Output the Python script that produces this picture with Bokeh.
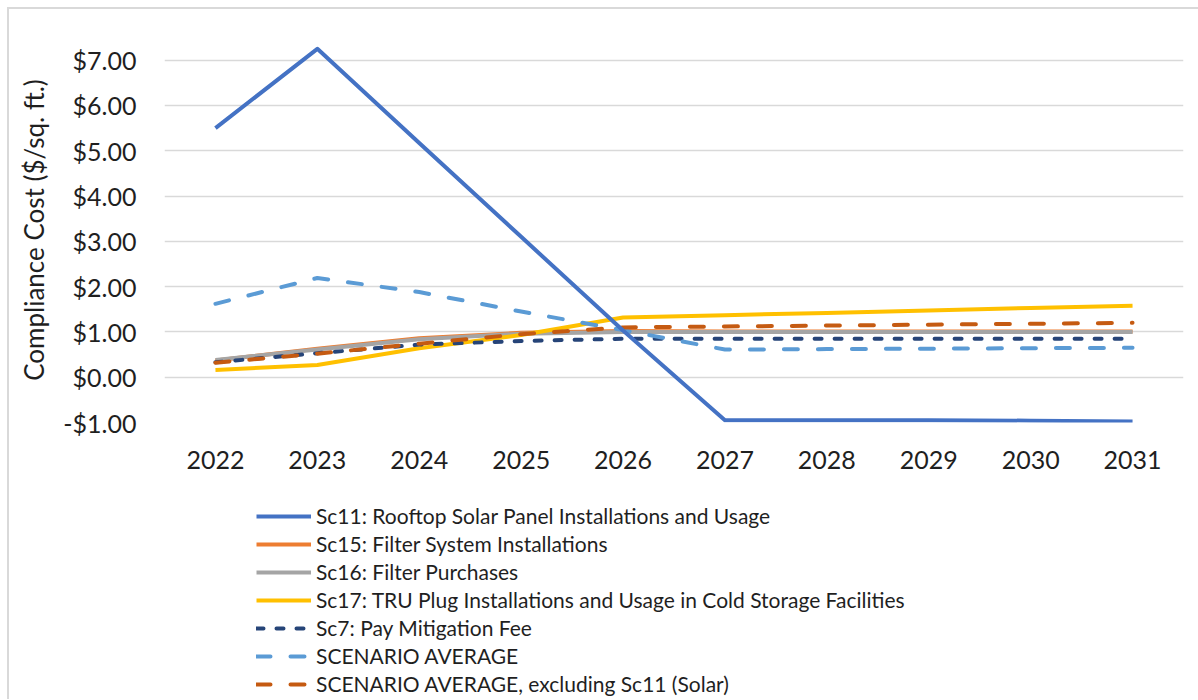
from bokeh.plotting import figure
from bokeh.layouts import column
from bokeh.models import FixedTicker, CustomJSTickFormatter, Legend, LegendItem, Range1d
from bokeh.embed import file_html
from bokeh.resources import INLINE

years = [2022, 2023, 2024, 2025, 2026, 2027, 2028, 2029, 2030, 2031]
sc11 = [5.50, 7.25, 5.17, 3.10, 1.03, -0.95, -0.95, -0.95, -0.96, -0.98]
sc15 = [0.37, 0.63, 0.86, 0.98, 1.02, 1.01, 1.01, 1.01, 1.01, 1.01]
sc16 = [0.38, 0.61, 0.84, 0.96, 1.00, 1.00, 1.00, 1.00, 1.00, 1.00]
sc17 = [0.16, 0.27, 0.64, 0.93, 1.32, 1.37, 1.42, 1.47, 1.53, 1.58]
sc7 = [0.33, 0.53, 0.72, 0.80, 0.85, 0.85, 0.85, 0.85, 0.85, 0.85]
avg_all = [1.62, 2.19, 1.88, 1.45, 1.04, 0.61, 0.62, 0.63, 0.64, 0.65]
avg_excl = [0.32, 0.52, 0.74, 0.95, 1.10, 1.12, 1.14, 1.16, 1.18, 1.20]
y_ticks = [-1, 0, 1, 2, 3, 4, 5, 6, 7]

labels = [
    "Sc11: Rooftop Solar Panel Installations and Usage",
    "Sc15: Filter System Installations",
    "Sc16: Filter Purchases",
    "Sc17: TRU Plug Installations and Usage in Cold Storage Facilities",
    "Sc7: Pay Mitigation Fee",
    "SCENARIO AVERAGE",
    "SCENARIO AVERAGE, excluding Sc11 (Solar)",
]
series = [sc11, sc15, sc16, sc17, sc7, avg_all, avg_excl]
styles = [
    dict(line_color="#4472C4"),
    dict(line_color="#ED7D31"),
    dict(line_color="#A5A5A5"),
    dict(line_color="#FFC000"),
    dict(line_color="#264478", line_dash="7 13", line_cap="round"),
    dict(line_color="#5B9BD5", line_dash="14 20", line_cap="round"),
    dict(line_color="#C55A11", line_dash="14 20", line_cap="round"),
]
draw_order = [1, 2, 3, 4, 5, 6, 0]

FONT = "Lato"
TXT = "#1f1f1f"
W = 4

p = figure(width=1189, height=488, output_backend="svg", toolbar_location=None,
           x_range=Range1d(2021.5, 2031.5), y_range=Range1d(-1, 7.5),
           min_border_left=155, min_border_right=15, min_border_top=28,
           min_border_bottom=75)
p.outline_line_color = None
p.xgrid.grid_line_color = None
p.ygrid.grid_line_color = "#d9d9d9"
p.ygrid.grid_line_width = 1.5

p.xaxis.ticker = FixedTicker(ticks=years)
p.yaxis.ticker = FixedTicker(ticks=y_ticks)
p.yaxis.formatter = CustomJSTickFormatter(
    code="return (tick < 0 ? '-' : '') + '$' + Math.abs(tick).toFixed(2);")
for ax in (p.xaxis[0], p.yaxis[0]):
    ax.axis_line_color = None
    ax.major_tick_line_color = None
    ax.minor_tick_line_color = None
    ax.major_label_text_font = FONT
    ax.major_label_text_font_size = "25px"
    ax.major_label_text_color = TXT
p.xaxis.major_label_standoff = 22
p.yaxis.major_label_standoff = 22
p.yaxis.axis_label = "Compliance Cost ($/sq. ft.)"
p.yaxis.axis_label_text_font = FONT
p.yaxis.axis_label_text_font_size = "26px"
p.yaxis.axis_label_text_font_style = "normal"
p.yaxis.axis_label_text_color = TXT
p.yaxis.axis_label_standoff = 10

for i in draw_order:
    p.line(years, series[i], line_width=W, line_join="round", **styles[i])

# legend panel below the chart (same series, renderers hidden; only the key shows)
lg = figure(width=1189, height=202, output_backend="svg", toolbar_location=None,
            x_range=Range1d(0, 1), y_range=Range1d(0, 1),
            x_axis_location=None, y_axis_location=None, min_border=0)
lg.outline_line_color = None
lg.grid.grid_line_color = None
items = []
for lab, ser, st in zip(labels, series, styles):
    r = lg.line(years, ser, line_width=W, visible=False, **st)
    items.append(LegendItem(label=lab, renderers=[r]))
legend = Legend(items=items, location=(92, 3), orientation="vertical",
                glyph_width=55, glyph_height=22, label_height=22, spacing=3,
                label_standoff=5, padding=0, margin=0,
                border_line_color=None, background_fill_alpha=0,
                inactive_fill_alpha=0,
                label_text_font=FONT, label_text_font_size="21px",
                label_text_color=TXT)
lg.add_layout(legend, "center")

page = column(p, lg, spacing=0)
page.margin = (7, 0, 0, 7)
page.styles = {"border-left": "2px solid #d9d9d9", "border-top": "2px solid #d9d9d9"}

open("out.html", "w").write(file_html(page, INLINE))
